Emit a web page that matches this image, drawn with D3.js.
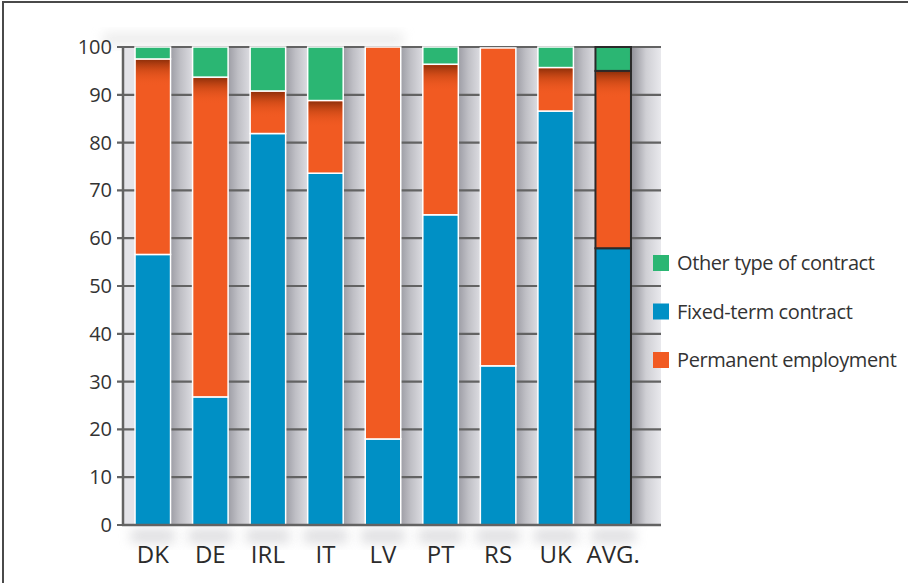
<!DOCTYPE html>
<html>
<head>
<meta charset="utf-8">
<script src="https://cdn.jsdelivr.net/npm/d3@7"></script>
<style>
  body { margin: 0; background: #fff; }
  svg { display: block; font-family: "Open Sans", sans-serif; }
</style>
</head>
<body>
<svg id="chart" width="908" height="583"></svg>
<script>
// datos (porcentajes)
var categories = ["DK", "DE", "IRL", "IT", "LV", "PT", "RS", "UK", "AVG."];
var fixedTerm = [56.6, 26.8, 81.9, 73.6, 18.0, 64.9, 33.3, 86.6, 57.9];
var permanent = [40.9, 66.9, 8.9, 15.2, 82.0, 31.5, 66.5, 9.1, 37.1];
var other = [2.5, 6.3, 9.2, 11.2, 0, 3.6, 0, 4.3, 5.0];
var yTicks = [0, 10, 20, 30, 40, 50, 60, 70, 80, 90, 100];

var legendLabels = ["Other type of contract", "Fixed-term contract", "Permanent employment"];
var legendKeys = ["other", "fixed", "permanent"];

var colors = { fixed: "#0090c5", permanent: "#f15a22", other: "#2bb673" };

var margin = { top: 47, left: 123 };
var plotW = 538, plotH = 478;

var svg = d3.select("#chart");
var defs = svg.append("defs");

// degradado para las sombras entre barras
var gapGrad = defs.append("linearGradient").attr("id", "gapGrad");
gapGrad.append("stop").attr("offset", "0%").attr("stop-color", "#9d9da5");
gapGrad.append("stop").attr("offset", "45%").attr("stop-color", "#bfbfc5");
gapGrad.append("stop").attr("offset", "100%").attr("stop-color", "#dcdce1");

var endGrad = defs.append("linearGradient").attr("id", "endGrad");
endGrad.append("stop").attr("offset", "0%").attr("stop-color", "#8f8f97");
endGrad.append("stop").attr("offset", "50%").attr("stop-color", "#cfcfd4");
endGrad.append("stop").attr("offset", "100%").attr("stop-color", "#e9e9ed");

var topShade = defs.append("linearGradient").attr("id", "topShade")
  .attr("x1", 0).attr("y1", 0).attr("x2", 0).attr("y2", 1);
topShade.append("stop").attr("offset", "0%").attr("stop-color", "#7a2605").attr("stop-opacity", 0.8);
topShade.append("stop").attr("offset", "40%").attr("stop-color", "#a8380a").attr("stop-opacity", 0.4);
topShade.append("stop").attr("offset", "100%").attr("stop-color", "#f15a22").attr("stop-opacity", 0);

defs.append("filter").attr("id", "blur")
  .attr("x", "-50%").attr("y", "-50%").attr("width", "200%").attr("height", "200%")
  .append("feGaussianBlur").attr("stdDeviation", 6);

// marco
svg.append("path")
  .attr("d", "M3,583V2H908")
  .attr("fill", "none")
  .attr("stroke", "#4a4a4a")
  .attr("stroke-width", 2);

var g = svg.append("g")
  .attr("transform", "translate(" + margin.left + "," + margin.top + ")");

var x = d3.scaleBand()
  .domain(categories)
  .range([0, 520])
  .paddingInner(0.383)
  .paddingOuter(0.209);

var y = d3.scaleLinear().domain([0, 100]).range([plotH, 0]);

// sombras suaves arriba y abajo
g.append("rect")
  .attr("x", -20).attr("y", -14).attr("width", 300).attr("height", 12)
  .attr("fill", "#d8d8d8").attr("filter", "url(#blur)").attr("opacity", 0.5);
g.selectAll(".under")
  .data(categories)
  .enter().append("rect")
  .attr("x", function(d) { return x(d) - 4; })
  .attr("y", plotH + 4)
  .attr("width", x.bandwidth() + 8)
  .attr("height", 14)
  .attr("fill", "#c8c8cc")
  .attr("opacity", 0.6)
  .attr("filter", "url(#blur)");

// fondo del área
g.append("rect")
  .attr("width", plotW).attr("height", plotH)
  .attr("fill", "#e3e3e8");

g.selectAll(".gap")
  .data(categories)
  .enter().append("rect")
  .attr("class", "gap")
  .attr("x", function(d) { return x(d) + x.bandwidth(); })
  .attr("y", 0)
  .attr("width", function(d, i) {
    return i < categories.length - 1 ? x.step() - x.bandwidth() : plotW - x(d) - x.bandwidth();
  })
  .attr("height", plotH)
  .attr("fill", function(d, i) { return i < categories.length - 1 ? "url(#gapGrad)" : "url(#endGrad)"; });

// líneas de la cuadrícula
g.selectAll(".grid")
  .data(yTicks)
  .enter().append("line")
  .attr("x1", -6).attr("x2", plotW)
  .attr("y1", function(d) { return y(d); })
  .attr("y2", function(d) { return y(d); })
  .attr("stroke", "#636363")
  .attr("stroke-width", 2.2);

// eje y
var yAxis = d3.axisLeft(y).tickValues(yTicks).tickSize(0).tickPadding(11);
var yG = g.append("g").call(yAxis);
yG.select(".domain").remove();
yG.selectAll("text")
  .attr("font-size", 20)
  .attr("fill", "#333")
  .style("font-family", "'Open Sans', sans-serif");

g.append("line")
  .attr("x1", 0).attr("x2", 0).attr("y1", -1).attr("y2", plotH + 1)
  .attr("stroke", "#636363").attr("stroke-width", 2.5);

// datos apilados
var table = categories.map(function(c, i) {
  return { cat: c, fixed: fixedTerm[i], permanent: permanent[i], other: other[i] };
});
var stacked = d3.stack().keys(["fixed", "permanent", "other"])(table);

var layers = g.selectAll(".layer")
  .data(stacked)
  .enter().append("g")
  .attr("class", "layer")
  .attr("fill", function(d) { return colors[d.key]; });

layers.selectAll("rect")
  .data(function(d) { return d; })
  .enter().append("rect")
  .filter(function(d) { return d[1] - d[0] > 0; })
  .attr("x", function(d) { return x(d.data.cat); })
  .attr("y", function(d) { return y(d[1]); })
  .attr("width", x.bandwidth())
  .attr("height", function(d) { return y(d[0]) - y(d[1]); })
  .attr("stroke", function(d) { return d.data.cat === "AVG." ? "#2a2a2a" : "#fff"; })
  .attr("stroke-width", function(d) { return d.data.cat === "AVG." ? 2 : 1.5; });

// sombra en la parte superior del naranja (bajo el verde)
g.selectAll(".shade")
  .data(table.filter(function(d) { return d.other > 0; }))
  .enter().append("rect")
  .attr("x", function(d) { return x(d.cat) + 1; })
  .attr("y", function(d) { return y(d.fixed + d.permanent) + 1; })
  .attr("width", x.bandwidth() - 2)
  .attr("height", function(d) { return Math.min(26, y(d.fixed) - y(d.fixed + d.permanent) - 2); })
  .attr("fill", "url(#topShade)");

// eje x
g.append("line")
  .attr("x1", -1).attr("x2", plotW).attr("y1", plotH).attr("y2", plotH)
  .attr("stroke", "#636363").attr("stroke-width", 2.5);

g.selectAll(".xlabel")
  .data(categories)
  .enter().append("text")
  .attr("x", function(d) { return x(d) + x.bandwidth() / 2; })
  .attr("y", plotH + 38)
  .attr("text-anchor", "middle")
  .attr("font-size", 24)
  .attr("fill", "#2b2b2b")
  .text(function(d) { return d; });

// leyenda
var legend = svg.append("g");
var rows = legend.selectAll("g")
  .data(legendKeys)
  .enter().append("g")
  .attr("transform", function(d, i) { return "translate(653," + (263 + i * 48.5) + ")"; });

rows.append("rect")
  .attr("x", 0).attr("y", -8)
  .attr("width", 16).attr("height", 16)
  .attr("fill", function(d) { return colors[d]; });

rows.append("text")
  .attr("x", 24)
  .attr("y", 0)
  .attr("dy", "0.35em")
  .attr("font-size", 20)
  .attr("letter-spacing", "-0.4px")
  .attr("fill", "#333")
  .text(function(d, i) { return legendLabels[i]; });
</script>
</body>
</html>
